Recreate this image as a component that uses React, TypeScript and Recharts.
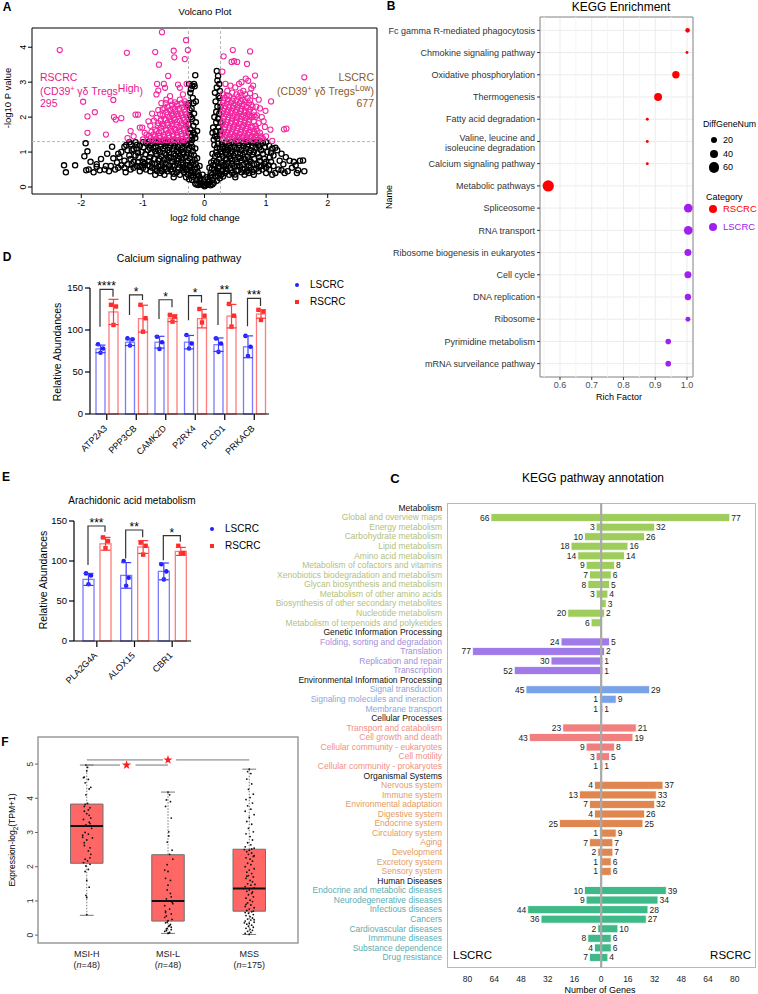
import React from 'react';
import {
  ScatterChart, Scatter, XAxis, YAxis, ZAxis, CartesianGrid, ReferenceLine, ReferenceArea,
  BarChart, Bar, ComposedChart, ErrorBar, LabelList, Cell, Symbols,
} from 'recharts';

const FONT = '"Liberation Sans", Arial, Helvetica, sans-serif';

// ---------- A: volcano ----------
const volcanoBlack: [number, number][] = [
  [0.2,3.32],[0.22,3.18],[0.24,2.95],[0.2,2.85],[0.18,2.45],[0.25,2.55],[0.21,2.3],[0.24,2.1],[0.16,2.0],[0.19,1.85],[0.23,1.7],[0.13,1.55],[0.17,1.45],[0.21,1.38],[0.26,1.85],[0.26,2.3],[0.14,1.7],[0.25,1.5],
  [0.17,2.7],[0.23,2.6],[0.19,2.15],[0.22,1.95],[0.26,1.6],[0.18,1.6],[0.2,1.45],[0.15,1.35],[0.25,2.75],[0.21,3.05],
  [-0.25,2.95],[-0.2,2.9],[-0.15,3.2],[-0.16,2.88],[-0.23,2.7],[-0.19,2.55],[-0.25,2.4],[-0.21,2.25],[-0.17,2.1],[-0.24,2.05],[-0.2,1.95],[-0.14,1.85],[-0.18,1.75],[-0.23,1.65],[-0.12,1.6],[-0.16,1.5],[-0.21,1.45],[-0.25,1.35],[-0.27,2.35],[-0.14,2.45],
  [-0.22,2.8],[-0.18,2.4],[-0.22,2.0],[-0.26,1.8],[-0.18,1.55],[-0.26,1.55],[-0.2,1.35],[-0.15,1.4],[-0.24,2.2],[-0.17,2.95],
  [0,0.02],[0.02,0.05],[-0.02,0.06],[0.04,0.1],[-0.04,0.1],[0.06,0.15],[-0.06,0.16],[0.05,0.22],[-0.07,0.25],[0.09,0.3],[-0.09,0.32],[0.1,0.4],[-0.11,0.42],[0.12,0.52],[-0.12,0.55],[0.14,0.62],[-0.14,0.65],[0.15,0.75],[-0.16,0.78],[0.17,0.88],[-0.17,0.9],[0.19,1.0],[-0.19,1.02],[0.2,1.12],[-0.2,1.15],[0.22,1.24],[-0.22,1.26],[0.08,0.55],[-0.08,0.6],[0.11,0.7],[-0.12,0.82],[0.13,0.95],[-0.15,1.1],[0.16,1.2],[0.03,0.28],[-0.03,0.35],
  [0.1,0.05],[-0.1,0.06],[0.15,0.12],[-0.15,0.1],[0.2,0.18],[-0.2,0.2],[0.25,0.25],[-0.25,0.22],[0.3,0.3],[-0.3,0.28],[0.28,0.45],[-0.28,0.5],[0.32,0.6],[-0.32,0.55],[0.27,0.7],[-0.27,0.75],[0.3,0.88],[-0.3,0.85],[0.26,1.0],[-0.26,1.05],[0.3,1.15],[-0.3,1.2],[0.24,0.38],[-0.22,0.4],[0.22,0.55],[-0.24,0.62],[0.35,0.8],[-0.35,0.7],[0.35,1.05],[-0.35,1.0],[0.33,1.25],[-0.33,1.28],
  [0.13,0.2],[0.18,0.3],[0.22,0.32],[0.27,0.35],[0.33,0.4],[0.18,0.42],[0.22,0.45],[0.3,0.5],[0.35,0.52],[0.24,0.58],[0.29,0.62],[0.18,0.62],[0.2,0.72],[0.24,0.8],[0.22,0.92],[0.28,0.95],[0.25,1.1],[0.28,1.22],[0.12,0.35],[0.16,0.5],[0.08,0.2],[0.06,0.07],[0.13,0.08],
  [-0.13,0.21],[-0.18,0.29],[-0.22,0.33],[-0.27,0.36],[-0.33,0.42],[-0.18,0.43],[-0.22,0.47],[-0.3,0.5],[-0.35,0.54],[-0.24,0.57],[-0.29,0.63],[-0.18,0.64],[-0.2,0.71],[-0.24,0.82],[-0.22,0.93],[-0.28,0.96],[-0.25,1.12],[-0.28,1.24],[-0.12,0.36],[-0.16,0.51],[-0.08,0.21],[-0.06,0.08],[-0.13,0.07],
  [-0.4,0.35],[-0.45,0.42],[-0.5,0.38],[-0.55,0.5],[-0.6,0.45],[-0.42,0.55],[-0.48,0.62],[-0.58,0.6],[-0.65,0.55],[-0.7,0.5],[-0.75,0.58],[-0.8,0.52],[-0.38,0.7],[-0.45,0.75],[-0.52,0.72],[-0.6,0.78],[-0.68,0.7],[-0.75,0.75],[-0.85,0.68],[-0.92,0.62],[-0.4,0.88],[-0.47,0.9],[-0.55,0.85],[-0.62,0.92],[-0.7,0.88],[-0.78,0.95],[-0.88,0.85],[-0.98,0.8],[-0.38,1.05],[-0.45,1.02],[-0.52,1.08],[-0.6,1.05],[-0.67,1.1],[-0.75,1.05],[-0.83,1.12],[-0.92,1.05],[-1.02,1.0],[-0.4,1.2],[-0.48,1.25],[-0.56,1.2],[-0.63,1.27],[-0.71,1.22],[-0.79,1.27],[-0.87,1.2],[-0.95,1.25],[-1.05,1.18],[-0.65,0.35],[-0.72,0.4],[-0.88,0.45],[-1.0,0.55],[-1.08,0.7],[-1.12,0.9],[-1.15,1.08],[-1.2,1.22],[-0.5,0.28],[-0.8,0.35],
  [-0.36,0.47],[-0.43,0.5],[-0.53,0.44],[-0.62,0.52],[-0.69,0.45],[-0.77,0.46],[-0.85,0.55],[-0.95,0.5],[-1.02,0.62],
  [-0.35,0.64],[-0.43,0.67],[-0.52,0.61],[-0.63,0.66],[-0.71,0.62],[-0.8,0.66],[-0.89,0.6],[-0.97,0.68],[-1.05,0.58],
  [-0.36,0.82],[-0.42,0.8],[-0.5,0.81],[-0.58,0.84],[-0.65,0.79],[-0.73,0.8],[-0.82,0.8],[-0.9,0.74],[-1.0,0.72],[-1.07,0.86],
  [-0.34,0.96],[-0.42,0.97],[-0.5,0.96],[-0.57,0.98],[-0.65,0.97],[-0.72,0.99],[-0.8,1.02],[-0.87,0.96],[-0.96,0.94],[-1.08,0.98],
  [-0.36,1.13],[-0.43,1.14],[-0.49,1.16],[-0.57,1.12],[-0.64,1.17],[-0.71,1.15],[-0.79,1.16],[-0.89,1.12],[-0.99,1.14],[-1.1,1.1],
  [-0.35,1.3],[-0.44,1.29],[-0.52,1.3],[-0.6,1.29],[-0.68,1.3],[-0.75,1.29],[-0.83,1.3],[-0.91,1.29],[-1.0,1.28],
  [-1.15,0.55],[-1.2,0.8],[-1.25,1.05],[-1.18,0.65],[-1.3,0.75],[-1.35,0.62],[-1.4,0.95],[-1.12,1.28],[-1.22,1.28],
  [-2.28,0.62],[-2.25,0.42],[-2.1,0.62],[-1.93,1.25],[-1.9,1.02],[-1.95,0.88],[-1.92,0.48],[-1.88,0.5],[-1.8,0.42],[-1.75,0.65],[-1.75,0.58],[-1.7,0.48],[-1.62,0.5],[-1.55,0.45],[-1.52,0.6],[-1.48,0.82],[-1.45,0.5],[-1.42,0.7],[-1.38,0.85],[-1.35,1.0],[-1.3,0.55],[-1.27,1.2],[-1.25,0.65],[-1.22,0.9],[-1.2,0.5],[-1.18,1.05],[-1.15,0.72],[-1.3,1.15],[-1.1,0.6],[-1.4,0.55],[-1.6,0.6],[-1.05,0.45],[-1.5,1.15],[-1.58,0.95],[-1.68,0.8],[-1.85,0.72],[-1.28,0.42],[-1.1,1.2],
  [0.4,0.35],[0.45,0.4],[0.5,0.36],[0.55,0.48],[0.6,0.42],[0.42,0.55],[0.48,0.6],[0.58,0.58],[0.65,0.52],[0.7,0.48],[0.75,0.55],[0.8,0.5],[0.38,0.7],[0.45,0.75],[0.52,0.7],[0.6,0.76],[0.68,0.7],[0.75,0.72],[0.85,0.65],[0.92,0.6],[0.4,0.88],[0.47,0.9],[0.55,0.85],[0.62,0.92],[0.7,0.87],[0.78,0.93],[0.88,0.85],[0.97,0.8],[0.38,1.05],[0.45,1.02],[0.52,1.08],[0.6,1.05],[0.67,1.1],[0.75,1.05],[0.83,1.12],[0.92,1.05],[1.02,1.0],[0.4,1.2],[0.48,1.25],[0.56,1.2],[0.63,1.27],[0.71,1.22],[0.79,1.27],[0.87,1.2],[0.95,1.25],[1.05,1.18],[0.65,0.35],[0.72,0.4],[0.88,0.45],[1.0,0.55],[1.08,0.72],[1.12,0.9],[1.15,1.12],[0.5,0.28],[0.8,0.35],
  [0.36,0.45],[0.43,0.48],[0.52,0.46],[0.62,0.5],[0.68,0.44],[0.78,0.43],[0.84,0.52],[0.94,0.5],
  [0.35,0.62],[0.44,0.66],[0.53,0.6],[0.63,0.64],[0.72,0.62],[0.8,0.66],[0.89,0.58],[0.98,0.66],[1.04,0.62],
  [0.36,0.8],[0.42,0.82],[0.5,0.79],[0.58,0.83],[0.65,0.8],[0.72,0.79],[0.81,0.81],[0.9,0.75],[1.0,0.72],[1.06,0.85],
  [0.34,0.97],[0.43,0.96],[0.5,0.98],[0.58,0.95],[0.65,0.99],[0.73,0.98],[0.8,1.0],[0.86,0.96],[0.95,0.95],[1.08,0.98],
  [0.36,1.14],[0.42,1.12],[0.49,1.15],[0.56,1.12],[0.64,1.18],[0.7,1.15],[0.78,1.16],[0.89,1.13],[0.98,1.15],[1.1,1.1],
  [0.35,1.3],[0.44,1.29],[0.52,1.3],[0.6,1.3],[0.68,1.29],[0.75,1.3],[0.84,1.29],[0.91,1.3],[1.0,1.28],
  [1.2,0.5],[1.22,0.75],[1.28,0.65],[1.25,0.48],[1.35,0.45],[1.32,0.85],[1.42,0.55],[1.45,0.72],[1.5,0.4],[1.52,0.48],[1.6,0.76],[1.62,0.45],[1.55,0.75],[1.48,0.62],[1.3,0.4],[1.38,0.75],[1.18,1.05],[1.15,0.4],[1.1,0.35],[1.0,0.4],[1.12,0.6],[1.25,0.95],[1.05,0.5],
];
const volcanoPink: [number, number][] = [
  [-2.35,3.92],[-1.97,2.44],[-1.9,2.02],[-1.9,1.55],[-1.78,2.14],[-1.6,1.5],[-1.48,2.49],[-1.47,2.0],[-1.44,1.93],[-1.35,1.97],[-1.26,3.84],[-1.25,1.4],[-1.2,1.6],[-1.12,2.07],[-1.08,2.07],[-1.05,1.7],[-1.01,1.7],[-0.97,1.55],[-0.94,1.5],[-0.91,1.88],[-0.8,3.86],[-0.77,2.95],[-0.78,2.65],[-0.75,2.76],[-0.74,3.5],[-0.69,4.43],[-0.66,2.95],[-0.64,2.84],[-0.59,3.18],[-0.5,3.9],[-0.49,3.71],[-0.43,2.93],[-0.4,2.84],[-0.32,3.66],[-0.3,4.2],[-0.27,3.92],[-0.35,2.65],[-0.29,2.95],[-0.56,2.6],[-0.62,2.5],[-0.7,2.4],[-0.85,2.1],[-0.88,1.75],[-1.15,1.45],
  [-0.32,2.45],[-0.4,2.5],[-0.48,2.42],[-0.55,2.46],
  [-0.3,2.38],[-0.37,2.4],[-0.45,2.37],[-0.53,2.36],[-0.63,2.4],
  [-0.29,2.3],[-0.36,2.28],[-0.44,2.33],[-0.51,2.25],[-0.6,2.3],[-0.68,2.22],
  [-0.33,2.22],[-0.41,2.24],[-0.48,2.22],[-0.56,2.2],[-0.65,2.25],[-0.75,2.2],
  [-0.31,2.15],[-0.39,2.1],[-0.47,2.17],[-0.54,2.1],[-0.62,2.14],[-0.72,2.08],
  [-0.3,2.07],[-0.37,2.05],[-0.44,2.09],[-0.52,2.04],[-0.6,2.07],[-0.68,2.05],
  [-0.28,2.0],[-0.35,1.98],[-0.42,2.03],[-0.5,1.96],[-0.57,2.0],[-0.65,1.95],[-0.78,1.98],
  [-0.33,1.92],[-0.4,1.9],[-0.48,1.93],[-0.55,1.9],[-0.63,1.91],[-0.71,1.9],[-0.82,1.9],
  [-0.3,1.85],[-0.37,1.82],[-0.45,1.87],[-0.53,1.8],[-0.6,1.84],[-0.68,1.8],[-0.75,1.83],
  [-0.3,1.77],[-0.38,1.76],[-0.45,1.78],[-0.52,1.74],[-0.6,1.77],[-0.67,1.74],[-0.76,1.76],
  [-0.28,1.7],[-0.34,1.68],[-0.41,1.72],[-0.49,1.66],[-0.56,1.7],[-0.63,1.65],[-0.71,1.7],[-0.8,1.64],
  [-0.33,1.62],[-0.4,1.6],[-0.47,1.63],[-0.54,1.6],[-0.62,1.62],[-0.7,1.59],[-0.78,1.6],[-0.86,1.58],
  [-0.31,1.55],[-0.38,1.52],[-0.45,1.57],[-0.52,1.5],[-0.59,1.55],[-0.67,1.5],[-0.74,1.55],[-0.83,1.5],
  [-0.3,1.47],[-0.37,1.45],[-0.44,1.48],[-0.51,1.44],[-0.58,1.47],[-0.66,1.43],[-0.73,1.46],[-0.81,1.44],[-0.9,1.46],
  [-0.29,1.4],[-0.36,1.37],[-0.43,1.42],[-0.5,1.36],[-0.57,1.4],[-0.65,1.35],[-0.72,1.4],[-0.79,1.36],[-0.87,1.4],
  [-0.33,1.34],[-0.4,1.33],[-0.47,1.35],[-0.54,1.33],[-0.61,1.34],[-0.69,1.33],[-0.76,1.34],[-0.84,1.33],[-0.93,1.34],[-1.0,1.36],
  [0.31,3.74],[0.29,3.3],[0.46,3.92],[0.44,3.58],[0.48,3.6],[0.53,3.58],[0.69,3.52],[0.74,3.88],[0.67,3.1],[0.71,3.04],[0.82,3.19],[0.79,2.9],[0.76,2.82],[1.62,3.14],[1.08,2.45],[0.99,2.18],[0.93,2.0],[0.88,1.83],[0.96,1.88],[0.98,1.72],[1.07,1.64],[1.29,1.65],[1.33,1.67],[1.1,1.32],[0.92,1.45],[0.86,1.6],[0.83,1.75],[0.8,2.05],[0.84,2.3],[0.6,3.0],[0.56,2.95],[0.5,2.85],[0.42,2.9],[0.37,2.75],[0.34,2.95],[0.63,2.75],[0.58,2.7],
  [0.3,2.65],[0.36,2.62],[0.45,2.7],[0.52,2.65],[0.6,2.62],[0.66,2.65],[0.74,2.68],[0.82,2.6],[0.88,2.5],[0.85,2.05],[0.9,2.25],
  [0.33,2.55],[0.4,2.6],[0.47,2.52],[0.55,2.58],[0.62,2.5],[0.7,2.55],
  [0.31,2.47],[0.38,2.5],[0.45,2.47],[0.52,2.48],[0.59,2.46],[0.66,2.45],[0.74,2.48],
  [0.3,2.4],[0.36,2.38],[0.43,2.42],[0.5,2.36],[0.57,2.4],[0.64,2.35],[0.72,2.4],[0.78,2.3],
  [0.33,2.32],[0.4,2.3],[0.47,2.33],[0.54,2.3],[0.61,2.32],[0.68,2.29],[0.76,2.35],
  [0.32,2.25],[0.39,2.2],[0.46,2.27],[0.53,2.2],[0.6,2.24],[0.67,2.18],[0.74,2.22],
  [0.3,2.17],[0.37,2.15],[0.44,2.18],[0.51,2.14],[0.58,2.17],[0.65,2.13],[0.72,2.15],[0.8,2.15],
  [0.29,2.1],[0.35,2.08],[0.42,2.12],[0.49,2.05],[0.56,2.1],[0.63,2.04],[0.7,2.08],[0.77,2.0],
  [0.32,2.02],[0.39,2.0],[0.46,2.03],[0.53,2.0],[0.6,2.02],[0.67,1.99],[0.74,2.03],[0.83,2.0],
  [0.31,1.95],[0.38,1.92],[0.45,1.97],[0.52,1.9],[0.59,1.95],[0.66,1.9],[0.73,1.93],
  [0.3,1.87],[0.37,1.85],[0.44,1.88],[0.51,1.84],[0.58,1.87],[0.65,1.83],[0.72,1.86],[0.8,1.88],
  [0.29,1.8],[0.35,1.78],[0.42,1.82],[0.49,1.76],[0.56,1.8],[0.63,1.75],[0.7,1.8],[0.78,1.72],
  [0.33,1.72],[0.4,1.7],[0.47,1.73],[0.54,1.69],[0.61,1.72],[0.68,1.68],[0.75,1.71],[0.84,1.66],
  [0.32,1.65],[0.39,1.62],[0.46,1.67],[0.53,1.6],[0.6,1.65],[0.67,1.6],[0.74,1.63],[0.81,1.58],
  [0.3,1.57],[0.37,1.55],[0.44,1.58],[0.51,1.54],[0.58,1.57],[0.65,1.53],[0.72,1.56],[0.8,1.52],[0.9,1.55],
  [0.29,1.5],[0.35,1.48],[0.42,1.52],[0.49,1.46],[0.56,1.5],[0.63,1.45],[0.7,1.5],[0.77,1.44],[0.84,1.48],
  [0.33,1.43],[0.4,1.42],[0.47,1.44],[0.54,1.41],[0.61,1.43],[0.68,1.4],[0.75,1.43],[0.83,1.41],[0.91,1.42],[1.0,1.45],
  [0.31,1.37],[0.38,1.35],[0.45,1.38],[0.52,1.34],[0.59,1.37],[0.66,1.34],[0.73,1.37],[0.8,1.35],[0.88,1.36],[0.95,1.38],
];
const volcanoXTicks = [-2, -1, 0, 1, 2];
const volcanoYTicks = [0, 1, 2, 3, 4];

// ---------- B: KEGG enrichment ----------
const bNames = [
  'Fc gamma R-mediated phagocytosis', 'Chmokine signaling pathway', 'Oxidative phosphorylation', 'Thermogenesis',
  'Fatty acid degradation', 'Valine, leucine and\nisoleucine degradation', 'Calcium signaling pathway', 'Metabolic pathways',
  'Spliceosome', 'RNA transport', 'Ribosome biogenesis in eukaryotes', 'Cell cycle',
  'DNA replication', 'Ribosome', 'Pyrimidine metabolism', 'mRNA surveilance pathway',
];
const bRich = [1.002, 1.0, 0.965, 0.909, 0.875, 0.875, 0.875, 0.563, 1.004, 1.004, 1.003, 1.003, 1.003, 1.003, 0.941, 0.941];
const bGenes = [12, 5, 31, 36, 5, 5, 5, 73, 43, 43, 28, 28, 23, 14, 18, 18];
const bCat = ['RSCRC', 'RSCRC', 'RSCRC', 'RSCRC', 'RSCRC', 'RSCRC', 'RSCRC', 'RSCRC',
  'LSCRC', 'LSCRC', 'LSCRC', 'LSCRC', 'LSCRC', 'LSCRC', 'LSCRC', 'LSCRC'];
const bXTicks = [0.6, 0.7, 0.8, 0.9, 1.0];
const bMinor = [0.55, 0.65, 0.75, 0.85, 0.95];
const bLegendSizes = [20, 40, 60];

// ---------- D: calcium signaling ----------
const dGenes = ['ATP2A3', 'PPP3CB', 'CAMK2D', 'P2RX4', 'PLCD1', 'PRKACB'];
const dL = [77.5, 85.5, 85.5, 85.5, 82.5, 80];
const dR = [121.5, 113.5, 114, 113.5, 116.5, 119];
const dLsd = [4.5, 4, 7, 8, 8, 13];
const dRsd = [15, 16, 4, 11, 14, 5];
const dLpts = [[83, 78, 73], [90, 89, 81.5], [92, 85.5, 77.5], [94, 84, 78], [90, 84, 74], [93, 80, 69]];
const dRpts = [[130, 128, 106], [130, 114, 98], [118, 116, 110], [125, 117, 109], [131, 117, 104], [124, 122, 112]];
const dBrTop = [148.4, 141.7, 136, 141, 143.6, 137.7];
const dBrL = [104, 118, 113, 111.6, 106, 104.5];
const dBrR = [139.7, 135.7, 127, 132.6, 133, 128.6];
const dStars = ['****', '*', '*', '*', '**', '***'];

// ---------- E: arachidonic acid ----------
const eGenes = ['PLA2G4A', 'ALOX15', 'CBR1'];
const eL = [77, 82, 87];
const eR = [121.5, 117.5, 112];
const eLsd = [7.5, 16, 10.5];
const eRsd = [8, 8, 5];
const eLpts = [[84.5, 82, 71], [100, 79, 69], [96, 87, 77]];
const eRpts = [[129.5, 125, 116], [123, 119, 108], [119, 110, 109]];
const eBrTop = [143.75, 138.75, 131.7];
const eBrL = [95, 103, 101];
const eBrR = [136.7, 129.6, 124];
const eStars = ['***', '**', '*'];
const abTicks = [0, 50, 100, 150];

// ---------- F: boxplot ----------
const fGroups = ['MSI-H', 'MSI-L', 'MSS'];
const fN = [48, 48, 175];
const fLow = [0.58, 0.05, 0.02];
const fQ1 = [2.1, 0.41, 0.7];
const fMed = [3.19, 1.0, 1.36];
const fQ3 = [3.83, 2.35, 2.51];
const fHigh = [4.97, 4.18, 4.85];
const fPoints: [number, number][] = [
  [0.99,4.97],[1.0,4.8],[0.97,4.62],[1.02,4.55],[0.98,4.45],[1.05,4.32],[1.03,4.27],[0.99,4.1],[1.01,3.85],[0.98,3.82],[1.04,3.72],[0.97,3.62],[1.0,3.55],[1.05,3.42],[0.96,3.38],[1.03,3.3],[0.99,3.22],[1.06,3.12],[0.98,3.0],[1.02,2.95],[0.95,2.86],[1.07,2.84],[1.0,2.78],[0.97,2.62],[1.04,2.55],[1.05,2.36],[0.98,2.22],[1.01,2.17],[0.96,2.12],[1.04,2.07],[0.99,2.02],[1.02,1.92],[1.0,1.6],[1.03,1.4],[0.99,1.16],[1.0,1.1],[1.0,0.6],[0.97,3.76],[1.04,3.26],[0.95,2.92],[1.02,2.46],[1.01,4.9],[0.96,4.6],[1.03,3.5],[0.97,2.7],[1.04,2.26],[0.98,1.86],[1.02,3.66],
  [2.0,4.18],[2.02,4.1],[1.98,3.95],[1.97,3.76],[2.04,3.42],[2.01,3.02],[1.99,2.72],[2.05,2.48],[2.02,2.36],[2.06,2.22],[1.96,1.9],[2.0,1.86],[1.97,1.66],[2.03,1.6],[1.99,1.32],[2.04,1.12],[1.98,1.06],[2.01,1.0],[2.05,0.96],[1.96,0.86],[2.02,0.76],[2.04,0.62],[1.98,0.56],[2.0,0.42],[1.97,0.36],[2.03,0.31],[2.01,0.26],[1.99,0.2],[2.04,0.16],[1.96,0.11],[2.0,0.05],[2.02,0.08],[1.98,0.13],[2.05,0.46],[1.97,0.7],[2.03,1.22],[1.99,2.06],[2.01,2.9],[2.03,3.9],[1.98,0.18],[2.02,0.28],[1.96,0.52],[2.0,1.46],[2.04,0.23],[1.97,0.66],[2.06,0.92],[1.99,0.38],[2.01,0.06],
  [3.0,4.85],[2.98,4.78],[3.02,4.72],[2.97,4.56],[3.03,4.42],[2.99,4.26],[3.05,4.12],[3.01,4.02],[2.96,3.96],[3.04,3.86],[2.98,3.78],[3.02,3.68],[2.95,3.62],[3.06,3.52],[3.0,3.44],[2.97,3.32],[3.03,3.24],[2.99,3.12],[3.05,3.02],[2.96,2.96],[3.01,2.88],[3.04,2.78],[2.98,2.7],[3.02,2.64],[2.95,2.58],[3.06,2.54],[3.0,2.48],[2.97,2.44],[3.03,2.4],[2.99,2.36],[3.05,2.3],[2.96,2.26],[3.01,2.22],[3.04,2.16],[2.98,2.1],[3.02,2.06],[2.95,2.0],[3.06,1.94],[3.0,1.9],[2.97,1.84],[3.03,1.8],[2.99,1.74],[3.05,1.7],[2.96,1.66],[3.01,1.6],[3.04,1.56],[2.98,1.5],[3.02,1.46],[2.95,1.42],[3.06,1.38],[3.0,1.32],[2.97,1.28],[3.03,1.22],[2.99,1.18],[3.05,1.12],[2.96,1.08],[3.01,1.02],[3.04,0.98],[2.98,0.94],[3.02,0.88],[2.95,0.84],[3.06,0.8],[3.0,0.76],[2.97,0.72],[3.03,0.68],[2.99,0.64],[3.05,0.6],[2.96,0.57],[3.01,0.54],[3.04,0.5],[2.98,0.47],[3.02,0.44],[2.95,0.41],[3.06,0.38],[3.0,0.35],[2.97,0.32],[3.03,0.29],[2.99,0.26],[3.05,0.23],[2.96,0.2],[3.01,0.17],[3.04,0.14],[2.98,0.11],[3.02,0.08],[2.95,0.05],[3.0,0.02],[3.06,2.32],[2.94,2.5],[3.07,1.48],[2.93,1.36],[3.05,0.7],[2.95,0.66],[3.06,0.45],[2.94,0.36],[3.03,2.52],[2.97,1.72],[3.04,1.26],[2.96,0.9],
];
const fStars: [number, number][] = [[1.49, 4.97], [2.0, 5.12]];
const fTicks = [0, 1, 2, 3, 4, 5];

// ---------- C: KEGG pathway annotation ----------
const cNames = [
  'Metabolism', 'Global and overview maps', 'Energy metabolism', 'Carbohydrate metabolism', 'Lipid metabolism', 'Amino acid metabolism',
  'Metabolism of cofactors and vitamins', 'Xenobiotics biodegradation and metabolism', 'Glycan biosynthesis and metabolism',
  'Metabolism of other amino acids', 'Biosynthesis of other secondary metabolites', 'Nucleotide metabolism', 'Metabolism of terpenoids and polyketides',
  'Genetic Information Processing', 'Folding, sorting and degradation', 'Translation', 'Replication and repair', 'Transcription',
  'Environmental Information Processing', 'Signal transduction', 'Signaling molecules and ineraction', 'Membrane transport',
  'Cellular Processes', 'Transport and catabolism', 'Cell growth and death', 'Cellular community - eukaryotes', 'Cell motility', 'Cellular community - prokaryotes',
  'Organismal Systems', 'Nervous system', 'Immune system', 'Environmental adaptation', 'Digestive system', 'Endocrine system',
  'Circulatory system', 'Aging', 'Development', 'Excretory system', 'Sensory system',
  'Human Diseases', 'Endocrine and metabolic diseases', 'Neurodegenerative diseases', 'Infectious diseases', 'Cancers',
  'Cardiovascular diseases', 'Immmune diseases', 'Substance dependence', 'Drug resistance',
];
const cHeaders = ['Metabolism', 'Genetic Information Processing', 'Environmental Information Processing', 'Cellular Processes', 'Organismal Systems', 'Human Diseases'];
const cGroup = [0,0,0,0,0,0,0,0,0,0,0,0,0, 1,1,1,1,1, 2,2,2,2, 3,3,3,3,3,3, 4,4,4,4,4,4,4,4,4,4,4, 5,5,5,5,5,5,5,5,5];
const cLeft = [null,66,3,10,18,14,9,7,8,3,null,20,6, null,24,77,30,52, null,45,1,1, null,23,43,9,3,1, null,4,13,7,4,25,1,7,2,1,1, null,10,9,44,36,2,8,4,7];
const cRight = [null,77,32,26,16,14,8,6,5,4,3,2,null, null,5,2,1,1, null,29,9,1, null,21,19,8,5,1, null,37,33,32,26,25,9,7,7,6,6, null,39,34,28,27,10,6,6,4];
const cTicks = [-80, -64, -48, -32, -16, 0, 16, 32, 48, 64, 80];
const groupBar = ['#9fcd5c', '#a07ae8', '#79a3e8', '#f27f80', '#e0874f', '#3dba88'];
const groupText = ['#b2bf80', '#a68dd8', '#8ca7db', '#f2917f', '#e59a63', '#5eadb0'];

// ---------- helpers ----------
function Txt({ x, y, children, size = 10, color = '#000', anchor = 'middle', weight = 400, rotate = 0 }: any) {
  const tx = anchor === 'middle' ? '-50%' : anchor === 'end' ? '-100%' : '0';
  return (
    <div style={{
      position: 'absolute', left: x, top: y, transform: `translate(${tx},-50%) rotate(${rotate}deg)`,
      fontSize: size, color, fontWeight: weight, whiteSpace: 'nowrap', lineHeight: 1,
    }}>{children}</div>
  );
}

const rotTick = (fs: number, color: string) => (p: any) => (
  <text x={p.x} y={p.y} transform={`rotate(-90 ${p.x} ${p.y})`} textAnchor="middle" fontSize={fs} fill={color}>
    {p.payload.value}
  </text>
);

const ring = (color: string, sw: number) => (p: any) => (
  <circle cx={p.cx} cy={p.cy} r={2.6} fill="none" stroke={color} strokeWidth={sw} />
);

function Volcano() {
  const black = volcanoBlack.map(([x, y]) => ({ x, y }));
  const pink = volcanoPink.map(([x, y]) => ({ x, y }));
  return (
    <div style={{ position: 'absolute', left: 0, top: 0 }}>
      <ScatterChart width={380} height={226} margin={{ top: 28, right: 3, bottom: 0, left: 0 }}>
        <XAxis type="number" dataKey="x" domain={[-2.8, 2.8]} ticks={volcanoXTicks} height={32} axisLine={false}
          tickSize={4} tickLine={{ stroke: '#000' }} tick={{ fontSize: 9, fill: '#000' }} allowDataOverflow />
        <YAxis type="number" dataKey="y" domain={[-0.2, 4.55]} ticks={volcanoYTicks} width={32} axisLine={false}
          tickSize={4} tickLine={{ stroke: '#000' }} tick={rotTick(9, '#000')} allowDataOverflow />
        <Scatter data={black} shape={ring('#000', 1.3)} isAnimationActive={false} />
        <Scatter data={pink} shape={ring('#f2249e', 1.05)} isAnimationActive={false} />
        <ReferenceLine x={-0.26} stroke="#b5b5b5" strokeDasharray="3 2" />
        <ReferenceLine x={0.26} stroke="#b5b5b5" strokeDasharray="3 2" />
        <ReferenceLine y={1.3} stroke="#b5b5b5" strokeDasharray="3 2" />
        <ReferenceArea x1={-2.8} x2={2.8} y1={-0.2} y2={4.55} fill="none" stroke="#000" strokeWidth={1} />
      </ScatterChart>
    </div>
  );
}

function Enrichment() {
  const rows = bNames.map((name, i) => ({ row: i + 1, rf: bRich[i], n: bGenes[i], cat: bCat[i] }));
  const yTicks = bNames.map((_, i) => i + 1);
  const tick = (p: any) => {
    const lines = bNames[p.payload.value - 1].split('\n');
    return (
      <text x={p.x} y={p.y} textAnchor="end" fontSize={9} fill="#333">
        {lines.map((l, k) => (
          <tspan key={k} x={p.x} dy={k === 0 ? (lines.length > 1 ? -0.5 : 3.2) : 10.5}>{l}</tspan>
        ))}
      </text>
    );
  };
  return (
    <div style={{ position: 'absolute', left: 380, top: 0 }}>
      <ScatterChart width={378} height={410} margin={{ top: 17, right: 65, bottom: 0, left: 0 }}>
        <CartesianGrid stroke="#ebebeb" />
        {bMinor.map((v) => <ReferenceLine key={v} x={v} stroke="#f5f5f5" />)}
        <XAxis type="number" dataKey="rf" domain={[0.537, 1.019]} ticks={bXTicks} tickFormatter={(v: number) => v.toFixed(1)}
          height={33} axisLine={false} tickSize={3} tickLine={{ stroke: '#333' }} tick={{ fontSize: 9, fill: '#4d4d4d' }} allowDataOverflow />
        <YAxis type="number" dataKey="row" domain={[0.4, 16.6]} reversed ticks={yTicks} width={160} axisLine={false}
          tickSize={3} tickLine={{ stroke: '#333' }} tick={tick} interval={0} allowDataOverflow />
        <ZAxis type="number" dataKey="n" domain={[0, 80]} range={[0, 110]} />
        <Scatter data={rows.filter((r) => r.cat === 'RSCRC')} fill="#ff0000" isAnimationActive={false} />
        <Scatter data={rows.filter((r) => r.cat === 'LSCRC')} fill="#a020f0" isAnimationActive={false} />
        <ReferenceArea x1={0.537} x2={1.019} y1={0.4} y2={16.6} fill="none" stroke="#8a8a8a" strokeWidth={1} />
      </ScatterChart>
    </div>
  );
}

const slantTick = (fs: number) => (p: any) => {
  const ty = p.y + 7;
  return (
    <text x={p.x + 1} y={ty} transform={`rotate(-45 ${p.x + 1} ${ty})`} textAnchor="end" fontSize={fs} fill="#000">
      {p.payload.value}
    </text>
  );
};

const hollowBar = (stroke: string, dotColor: string, square: boolean, ptsKey: string, valKey: string) => (p: any) => {
  const { x, y, width, height, payload } = p;
  const ppu = height / payload[valKey];
  const base = y + height;
  const cx = x + width / 2;
  const offs = [-2.5, 2.5, 0];
  return (
    <g>
      <rect x={x} y={y} width={width} height={height} fill="#fff" stroke={stroke} strokeWidth={1.3} />
      {payload[ptsKey].map((v: number, i: number) => {
        const px = cx + offs[i];
        const py = base - v * ppu;
        return square
          ? <rect key={i} x={px - 2.2} y={py - 2.2} width={4.4} height={4.4} fill={dotColor} />
          : <circle key={i} cx={px} cy={py} r={2.3} fill={dotColor} />;
      })}
    </g>
  );
};

const bracketShape = (off: number) => (p: any) => {
  const { x, y, width, height, payload } = p;
  const ppu = height / payload.br;
  const base = y + height;
  const cx = x + width / 2;
  const yl = base - payload.brL * ppu;
  const yr = base - payload.brR * ppu;
  return (
    <g>
      <path d={`M${cx - off},${yl}V${y}H${cx + off}V${yr}`} fill="none" stroke="#333" strokeWidth={1.2} />
      <text x={cx} y={y + 1} textAnchor="middle" fontSize={12} fill="#000">{payload.stars}</text>
    </g>
  );
};

function AbundancePanel(props: any) {
  const { genes, lo, hi, loSd, hiSd, loPts, hiPts, brTop, brL, brR, stars, left, top, width, height,
    mTop, yWidth, mRight, xHeight, padLeft, barSize, barGap } = props;
  const rows = genes.map((g: string, i: number) => ({
    gene: g, lo: lo[i], hi: hi[i], loSd: loSd[i], hiSd: hiSd[i], loPts: loPts[i], hiPts: hiPts[i],
    br: brTop[i], brL: brL[i], brR: brR[i], stars: stars[i],
  }));
  const off = (barSize + barGap) / 2;
  return (
    <div style={{ position: 'absolute', left, top }}>
      <BarChart width={width} height={height} data={rows} margin={{ top: mTop, right: mRight, bottom: 0, left: 0 }}
        barGap={barGap} barSize={barSize}>
        <XAxis xAxisId="main" dataKey="gene" padding={{ left: padLeft, right: 0 }} height={xHeight} tickSize={6}
          tickLine={{ stroke: '#000', strokeWidth: 1.2 }} axisLine={{ stroke: '#000', strokeWidth: 1.2 }} tick={slantTick(9)} interval={0} />
        <XAxis xAxisId="br" dataKey="gene" padding={{ left: padLeft, right: 0 }} height={0} hide />
        <YAxis domain={[0, 150]} ticks={abTicks} width={yWidth} tickSize={5}
          tickLine={{ stroke: '#000', strokeWidth: 1.2 }} axisLine={{ stroke: '#000', strokeWidth: 1.2 }}
          tick={{ fontSize: 9.5, fill: '#000' }} />
        <Bar xAxisId="main" dataKey="lo" shape={hollowBar('#7b7bff', '#1f1fff', false, 'loPts', 'lo')} isAnimationActive={false}>
          <ErrorBar dataKey="loSd" width={5} stroke="#3b3bff" strokeWidth={1.2} />
        </Bar>
        <Bar xAxisId="main" dataKey="hi" shape={hollowBar('#ff7b7b', '#ff2a2a', true, 'hiPts', 'hi')} isAnimationActive={false}>
          <ErrorBar dataKey="hiSd" width={5} stroke="#ff3b3b" strokeWidth={1.2} />
        </Bar>
        <Bar xAxisId="br" dataKey="br" fill="none" shape={bracketShape(off)} isAnimationActive={false} />
      </BarChart>
    </div>
  );
}

function AbLegend({ x, y }: { x: number; y: number }) {
  return (
    <>
      <div style={{ position: 'absolute', left: x - 2.3, top: y - 2.3, width: 4.6, height: 4.6, borderRadius: '50%', background: '#1f1fff' }} />
      <div style={{ position: 'absolute', left: x - 2.2, top: y + 17 - 2.2, width: 4.4, height: 4.4, background: '#ff2a2a' }} />
      <Txt x={x + 13} y={y} size={10} anchor="start">LSCRC</Txt>
      <Txt x={x + 13} y={y + 17} size={10} anchor="start">RSCRC</Txt>
    </>
  );
}

function BoxPanel() {
  const pts = fPoints.map(([x, y]) => ({ x, y }));
  const stars = fStars.map(([x, y]) => ({ x, y }));
  const xTick = (p: any) => {
    const i = p.payload.value - 1;
    return (
      <text x={p.x} y={p.y} textAnchor="middle" fontSize={9} fill="#222">
        <tspan x={p.x} dy={6}>{fGroups[i]}</tspan>
        <tspan x={p.x} dy={10.5}>(<tspan fontStyle="italic">n</tspan>={fN[i]})</tspan>
      </text>
    );
  };
  return (
    <div style={{ position: 'absolute', left: 0, top: 730 }}>
      <ComposedChart width={305} height={264} margin={{ top: 7, right: 7, bottom: 0, left: 0 }}>
        <XAxis type="number" dataKey="x" domain={[0.4, 3.6]} ticks={[1, 2, 3]} height={51} axisLine={false} tickLine={false}
          tick={xTick} allowDataOverflow />
        <YAxis type="number" dataKey="y" domain={[-0.23, 5.79]} ticks={fTicks} width={38} axisLine={false} tickSize={3}
          tickLine={{ stroke: '#666' }} tick={rotTick(8.5, '#333')} allowDataOverflow />
        {fGroups.map((g, i) => {
          const c = i + 1;
          return (
            <React.Fragment key={g}>
              <ReferenceLine segment={[{ x: c, y: fQ3[i] }, { x: c, y: fHigh[i] }]} stroke="#777" strokeDasharray="1.5 1.5" />
              <ReferenceLine segment={[{ x: c, y: fLow[i] }, { x: c, y: fQ1[i] }]} stroke="#777" strokeDasharray="1.5 1.5" />
              <ReferenceLine segment={[{ x: c - 0.085, y: fHigh[i] }, { x: c + 0.085, y: fHigh[i] }]} stroke="#777" />
              <ReferenceLine segment={[{ x: c - 0.085, y: fLow[i] }, { x: c + 0.085, y: fLow[i] }]} stroke="#777" />
              <ReferenceArea x1={c - 0.2} x2={c + 0.2} y1={fQ1[i]} y2={fQ3[i]} fill="#ff6666" fillOpacity={1} stroke="#707070" strokeWidth={1} />
              <ReferenceLine segment={[{ x: c - 0.2, y: fMed[i] }, { x: c + 0.2, y: fMed[i] }]} stroke="#111" strokeWidth={2} />
            </React.Fragment>
          );
        })}
        <Scatter data={pts} isAnimationActive={false} shape={(p: any) => <circle cx={p.cx} cy={p.cy} r={0.9} fill="#111" />} />
        <ReferenceLine segment={[{ x: 1, y: 5.12 }, { x: 1.94, y: 5.12 }]} stroke="#777" />
        <ReferenceLine segment={[{ x: 2.1, y: 5.12 }, { x: 3, y: 5.12 }]} stroke="#777" />
        <ReferenceLine segment={[{ x: 1, y: 4.97 }, { x: 1.41, y: 4.97 }]} stroke="#777" />
        <ReferenceLine segment={[{ x: 1.6, y: 4.97 }, { x: 2, y: 4.97 }]} stroke="#777" />
        <Scatter data={stars} isAnimationActive={false}
          shape={(p: any) => <Symbols type="star" cx={p.cx} cy={p.cy} size={26} fill="#ff1a1a" />} />
        <ReferenceArea x1={0.4} x2={3.6} y1={-0.23} y2={5.79} fill="none" stroke="#9a9a9a" strokeWidth={1.5} />
      </ComposedChart>
    </div>
  );
}

function Annotation() {
  const rows = cNames.map((name, i) => ({
    name, g: cGroup[i],
    ls: cLeft[i] == null ? 0 : -(cLeft[i] as number),
    rs: cRight[i] == null ? 0 : (cRight[i] as number),
    lsN: cLeft[i], rsN: cRight[i],
  }));
  const tick = (p: any) => {
    const name = p.payload.value as string;
    const i = cNames.indexOf(name);
    const isHead = cHeaders.includes(name);
    return (
      <text x={p.x} y={p.y} dy={3} textAnchor="end" fontSize={8.5} fill={isHead ? '#111' : groupText[cGroup[i]]}>{name}</text>
    );
  };
  const leftLabel = (p: any) => {
    if (p.value == null) return null;
    const lx = Math.min(p.x, p.x + p.width);
    return <text x={lx - 1.5} y={p.y + p.height / 2 + 3} textAnchor="end" fontSize={8.5} fill="#222">{p.value}</text>;
  };
  const rightLabel = (p: any) => {
    if (p.value == null) return null;
    const rx = Math.max(p.x, p.x + p.width);
    return <text x={rx + 1.5} y={p.y + p.height / 2 + 3} textAnchor="start" fontSize={8.5} fill="#222">{p.value}</text>;
  };
  return (
    <div style={{ position: 'absolute', left: 260, top: 490 }}>
      <BarChart layout="vertical" width={498} height={504} data={rows} stackOffset="sign" barSize={8}
        margin={{ top: 13, right: 2, bottom: 0, left: 0 }}>
        <XAxis type="number" domain={[-92.3, 92.7]} ticks={cTicks} tickFormatter={(v: number) => String(Math.abs(v))}
          axisLine={false} tickLine={false} height={26} tick={{ fontSize: 8.5, fill: '#222' }} allowDataOverflow />
        <YAxis type="category" dataKey="name" width={187} interval={0} axisLine={false} tickLine={false}
          tickSize={3} tickMargin={2} padding={{ top: 0, bottom: 6 }} tick={tick} />
        <Bar dataKey="ls" stackId="s" stroke="#fff" strokeWidth={0.8} isAnimationActive={false}>
          {rows.map((r, i) => <Cell key={i} fill={groupBar[r.g]} />)}
          <LabelList dataKey="lsN" content={leftLabel} />
        </Bar>
        <Bar dataKey="rs" stackId="s" stroke="#fff" strokeWidth={0.8} isAnimationActive={false}>
          {rows.map((r, i) => <Cell key={i} fill={groupBar[r.g]} />)}
          <LabelList dataKey="rsN" content={rightLabel} />
        </Bar>
        <ReferenceLine x={0} stroke="#a8a8a8" strokeWidth={2.2} />
      </BarChart>
    </div>
  );
}

const supPlus = <span style={{ fontSize: 7, position: 'relative', top: -4 }}>+</span>;

export default function App() {
  const pink = '#e8198b';
  const brown = '#8b5a2b';
  return (
    <div style={{ position: 'absolute', left: 0, top: 0, width: 758, height: 994, background: '#fff', fontFamily: FONT, overflow: 'hidden' }}>
      {/* A */}
      <Txt x={7} y={7} size={12} weight={700}>A</Txt>
      <Txt x={205} y={12} size={9.5}>Volcano Plot</Txt>
      <Volcano />
      <Txt x={8} y={98} size={9.5} rotate={-90}>-log10 P value</Txt>
      <Txt x={205} y={218} size={9.5}>log2 fold change</Txt>
      <Txt x={40} y={77} size={10.5} color={pink} anchor="start">RSCRC</Txt>
      <Txt x={40} y={91} size={10.5} color={pink} anchor="start">(CD39{supPlus} γδ Tregs<span style={{ position: 'relative', top: -3 }}>High</span>)</Txt>
      <Txt x={40} y={102.5} size={10.5} color={pink} anchor="start">295</Txt>
      <Txt x={374} y={77} size={10.5} color={brown} anchor="end">LSCRC</Txt>
      <Txt x={374} y={91} size={10.5} color={brown} anchor="end">(CD39{supPlus} γδ Tregs<span style={{ fontSize: 8.5, position: 'relative', top: -4 }}>Low</span>)</Txt>
      <Txt x={374} y={102.5} size={10.5} color={brown} anchor="end">677</Txt>

      {/* B */}
      <Txt x={391} y={6} size={12} weight={700}>B</Txt>
      <Txt x={621} y={7} size={12}>KEGG Enrichment</Txt>
      <Enrichment />
      <Txt x={389} y={197} size={9} rotate={-90}>Name</Txt>
      <Txt x={619} y={397} size={9}>Rich Factor</Txt>
      <Txt x={703} y={124} size={8.8} anchor="start">DiffGeneNum</Txt>
      {bLegendSizes.map((v, i) => {
        const r = Math.sqrt((v / 80) * 110 / Math.PI);
        const cy = 140 + i * 13.7;
        return (
          <React.Fragment key={v}>
            <div style={{ position: 'absolute', left: 714 - r, top: cy - r, width: 2 * r, height: 2 * r, borderRadius: '50%', background: '#000' }} />
            <Txt x={723} y={cy} size={9} anchor="start">{v}</Txt>
          </React.Fragment>
        );
      })}
      <Txt x={706} y={197} size={9} anchor="start">Category</Txt>
      <div style={{ position: 'absolute', left: 713 - 4, top: 209 - 4, width: 8, height: 8, borderRadius: '50%', background: '#ff0000' }} />
      <Txt x={723} y={209} size={9.5} color="#ff0000" anchor="start">RSCRC</Txt>
      <div style={{ position: 'absolute', left: 713 - 4, top: 227 - 4, width: 8, height: 8, borderRadius: '50%', background: '#a020f0' }} />
      <Txt x={723} y={227} size={9.5} color="#a020f0" anchor="start">LSCRC</Txt>

      {/* D */}
      <Txt x={7} y={257} size={12} weight={700}>D</Txt>
      <Txt x={179} y={258} size={10.5}>Calcium signaling pathway</Txt>
      <AbundancePanel genes={dGenes} lo={dL} hi={dR} loSd={dLsd} hiSd={dRsd} loPts={dLpts} hiPts={dRpts}
        brTop={dBrTop} brL={dBrL} brR={dBrR} stars={dStars}
        left={0} top={262} width={275} height={200} mTop={26} yWidth={90} mRight={6} xHeight={48}
        padLeft={2} barSize={9} barGap={4} />
      <Txt x={57} y={352} size={10.5} rotate={-90}>Relative Abundances</Txt>
      <AbLegend x={297} y={285} />

      {/* E */}
      <Txt x={6} y={477} size={12} weight={700}>E</Txt>
      <Txt x={132} y={501} size={10}>Arachidonic acid metabolism</Txt>
      <AbundancePanel genes={eGenes} lo={eL} hi={eR} loSd={eLsd} hiSd={eRsd} loPts={eLpts} hiPts={eRpts}
        brTop={eBrTop} brL={eBrL} brR={eBrR} stars={eStars}
        left={0} top={505} width={195} height={186} mTop={16} yWidth={74} mRight={4} xHeight={50}
        padLeft={4} barSize={11} barGap={6} />
      <Txt x={43} y={580} size={10.5} rotate={-90}>Relative Abundances</Txt>
      <AbLegend x={212} y={529} />

      {/* F */}
      <Txt x={5} y={742} size={12} weight={700}>F</Txt>
      <BoxPanel />
      <Txt x={14} y={840} size={8.5} rotate={-90}>Expression-log<sub style={{ fontSize: 6.5 }}>2</sub>(TPM+1)</Txt>

      {/* C */}
      <Txt x={395} y={478} size={13} weight={700}>C</Txt>
      <Txt x={593} y={478} size={12}>KEGG pathway annotation</Txt>
      <div style={{ position: 'absolute', left: 447, top: 503, width: 309, height: 465, border: '1.3px solid #b8b8b8', boxSizing: 'border-box' }} />
      <Annotation />
      <Txt x={453} y={956} size={11.5} anchor="start">LSCRC</Txt>
      <Txt x={751} y={956} size={11.5} anchor="end">RSCRC</Txt>
      <Txt x={600} y={990} size={9}>Number of Genes</Txt>
    </div>
  );
}
